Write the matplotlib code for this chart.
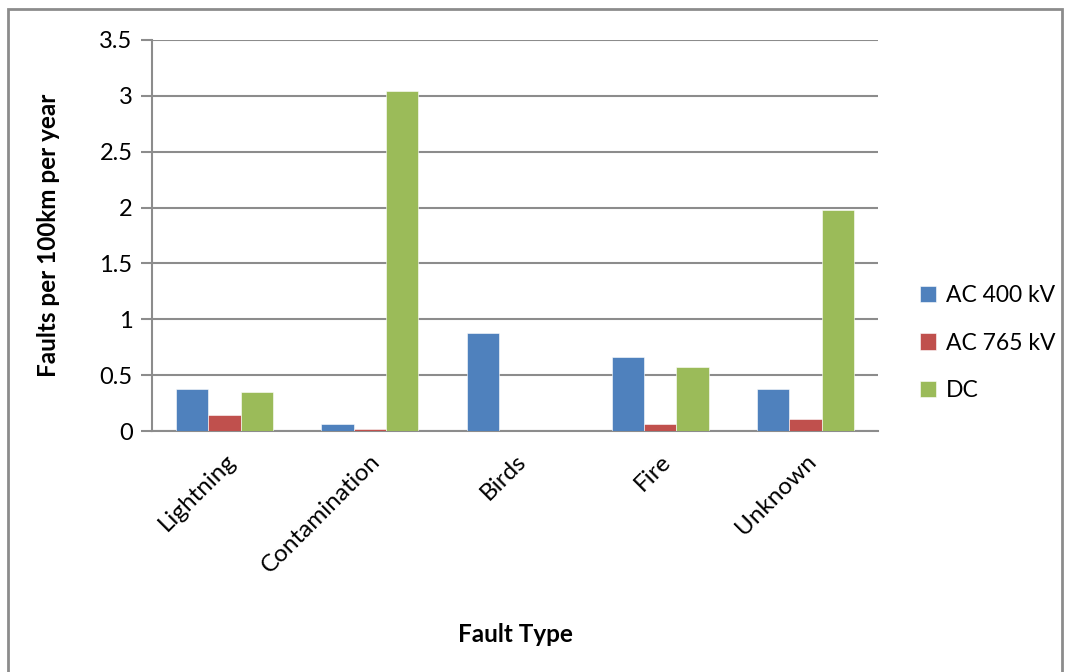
import matplotlib
matplotlib.use("Agg")
import matplotlib.pyplot as plt
import numpy as np
from matplotlib.patches import Rectangle

# fault rates per 100 km per year
fault_types = ["Lightning", "Contamination", "Birds", "Fire", "Unknown"]
ac400 = [0.375, 0.065, 0.875, 0.66, 0.38]
ac765 = [0.14, 0.015, 0.0, 0.06, 0.105]
dc = [0.35, 3.04, 0.0, 0.575, 1.98]
series_names = ["AC 400 kV", "AC 765 kV", "DC"]
yticks = [0, 0.5, 1, 1.5, 2, 2.5, 3, 3.5]
ytick_labels = ["0", "0.5", "1", "1.5", "2", "2.5", "3", "3.5"]

colors = ["#4f81bd", "#c0504d", "#9bbb59"]

plt.rcParams["font.family"] = ["Lato", "DejaVu Sans"]

fig = plt.figure(figsize=(10.66, 6.72), dpi=100)
ax = fig.add_axes([152 / 1066, 1 - 431 / 672, 726 / 1066, 391 / 672])

# outer chart frame
fig.patches.append(Rectangle((8 / 1066, -0.05), 1054 / 1066, 1.05 - 9 / 672,
                             transform=fig.transFigure, fill=False,
                             edgecolor="#8c8c8c", linewidth=2))

x = np.arange(len(fault_types))
w = 1 / 4.5
for i, (vals, name) in enumerate(zip([ac400, ac765, dc], series_names)):
    ax.bar(x + (i - 1) * w, vals, w, color=colors[i], label=name,
           edgecolor="white", linewidth=0.4, zorder=3)

ax.set_xlim(-0.5, len(fault_types) - 0.5)
ax.set_ylim(0, 3.5)
ax.set_yticks(yticks)
ax.set_yticklabels(ytick_labels, fontsize=17)
ax.set_xticks(x)
ax.set_xticklabels(fault_types, rotation=45, ha="right", rotation_mode="anchor",
                   fontsize=17.5)
ax.tick_params(axis="x", length=0, pad=14)
ax.tick_params(axis="y", length=8, width=1.5, color="#8c8c8c", pad=6)

ax.grid(axis="y", color="#8c8c8c", linewidth=1.5, zorder=0)
for s in ["top", "right"]:
    ax.spines[s].set_visible(False)
for s in ["left", "bottom"]:
    ax.spines[s].set_color("#8c8c8c")
    ax.spines[s].set_linewidth(1.5)

ax.set_ylabel("Faults per 100km per year", fontsize=17.5, fontweight="bold")
ax.yaxis.set_label_coords(-0.127, 0.5)
ax.set_xlabel("Fault Type", fontsize=17.5, fontweight="bold")
ax.xaxis.set_label_coords(0.5, -0.49)

ax.legend(loc="center left", bbox_to_anchor=(1.03, 0.225), frameon=False,
          fontsize=16.5, handlelength=0.7, handleheight=0.7, labelspacing=1.15,
          handletextpad=0.4)

fig.savefig("out.png", dpi=100)
